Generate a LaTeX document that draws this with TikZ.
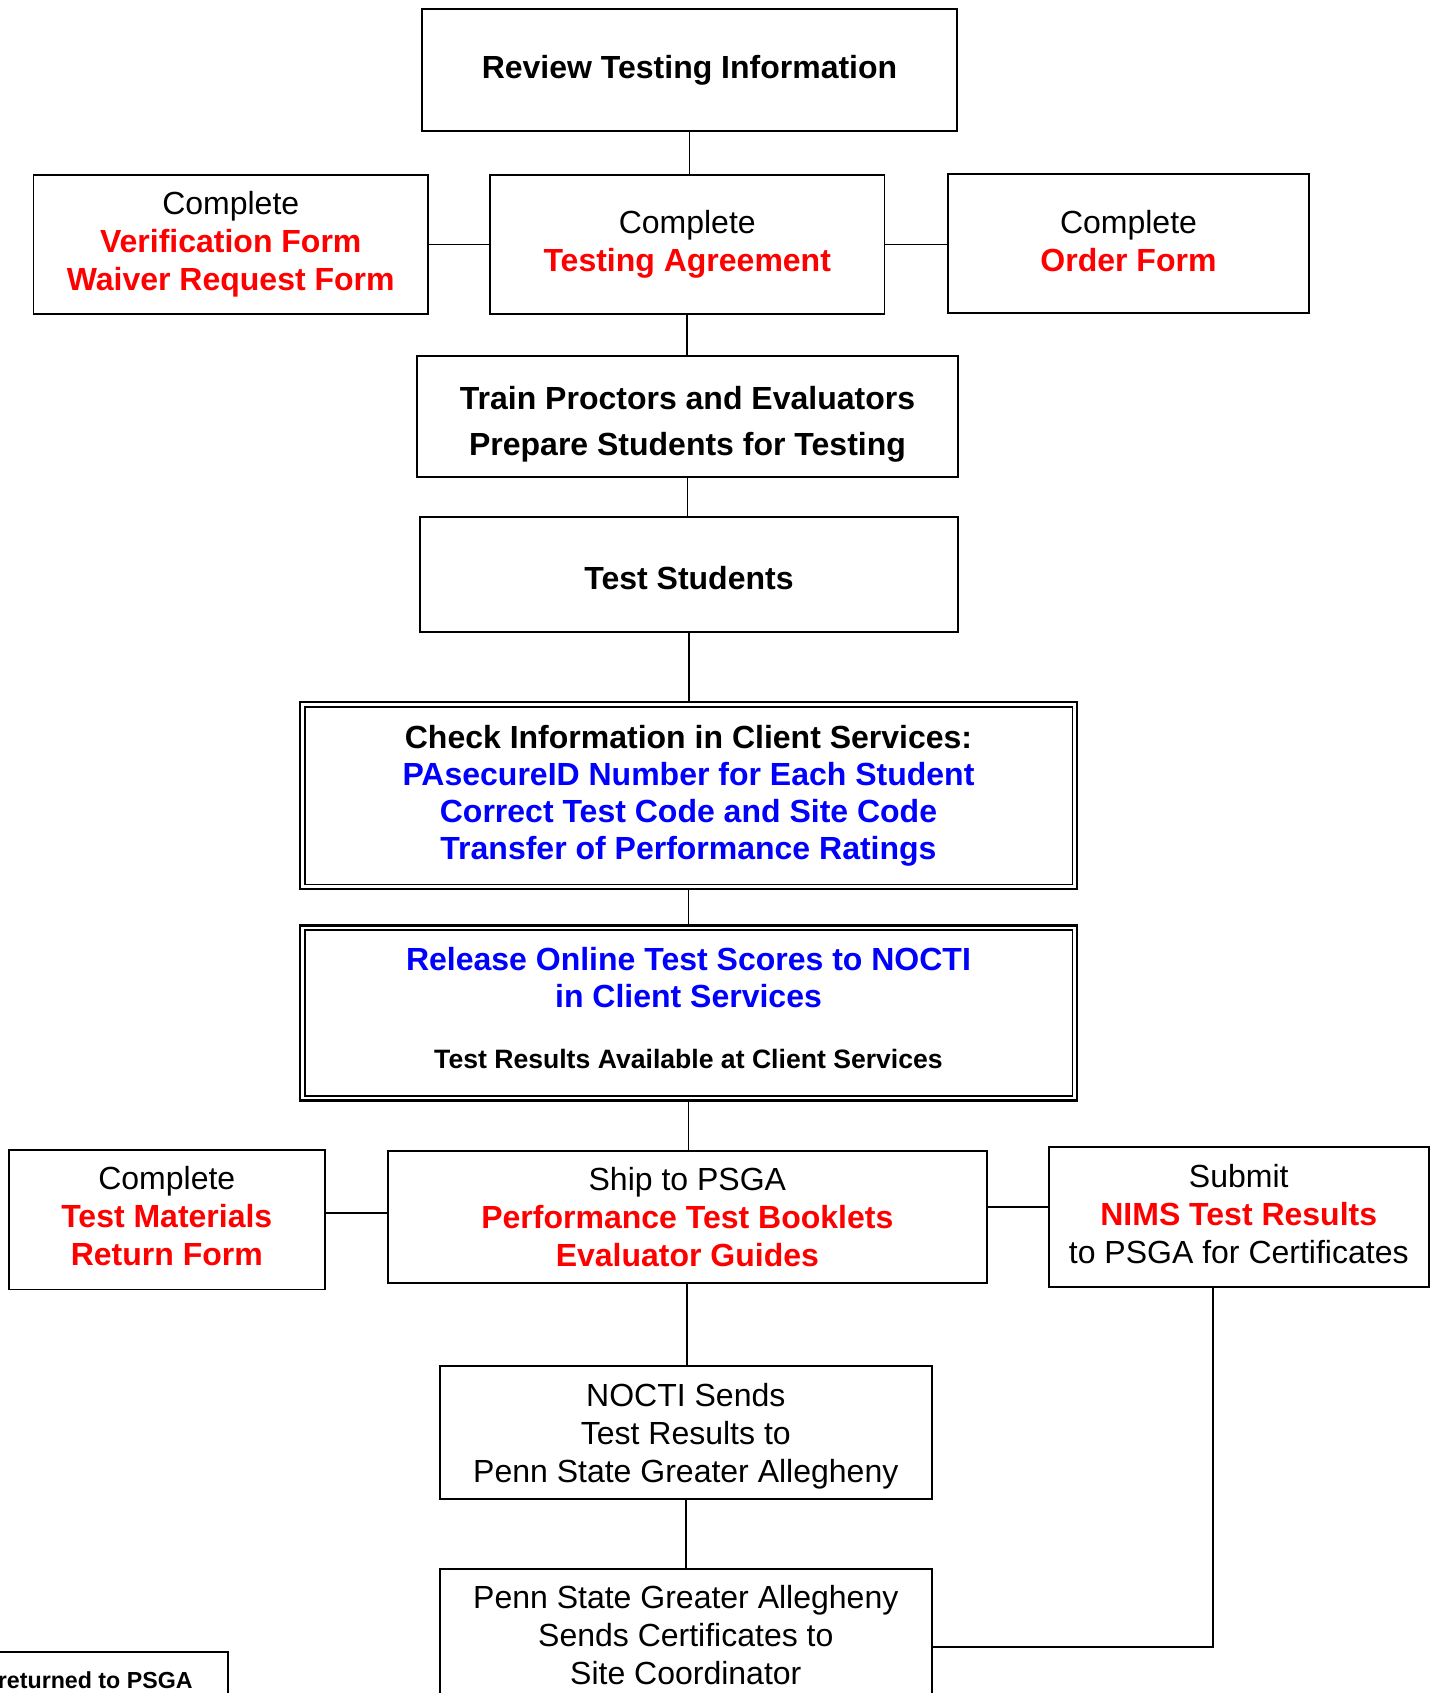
\documentclass[tikz,border=0pt]{standalone}
\usepackage{fontspec}
\setmainfont{Liberation Sans}
\newcommand{\redb}[1]{\textcolor{red}{\bfseries #1}}
\newcommand{\blueb}[1]{\textcolor{blue}{\bfseries #1}}
\newcommand{\dpfix}[1]{\rule[-#1]{0pt}{#1}}
\newcommand{\htfix}[1]{\rule{0pt}{#1}}
\begin{document}
\begin{tikzpicture}[x=0.5pt,y=-0.5pt,
  box/.style={draw, line width=0.9pt, align=center, inner sep=0pt, font=\fontsize{16}{19}\selectfont},
  dblbox/.style={box, line width=1.4pt},
  conn/.style={line width=0.9pt}]
\clip (0,0) rectangle (1432,1693);
\fill[white] (0,0) rectangle (1432,1693);

\node[box, minimum width=267.5pt, minimum height=61pt] (review) at (689.5,70) {\bfseries Review Testing Information};

\node[box, minimum width=197.25pt, minimum height=69.5pt] (verif) at (230.75,244.5) {Complete\\\redb{Verification Form}\\\redb{Waiver Request Form}};
\node[box, minimum width=197.25pt, minimum height=69.5pt] (agree) at (687.25,244.5) {Complete\\\redb{Testing Agreement}};
\node[box, minimum width=180.5pt, minimum height=69.5pt] (order) at (1128.5,243.5) {Complete\\\redb{Order Form}\dpfix{2.7pt}};

\node[box, minimum width=270.5pt, minimum height=60.5pt] (train) at (687.5,416.5) {\htfix{19.2pt}\bfseries Train Proctors and Evaluators\\[4pt]\bfseries Prepare Students for Testing};
\node[box, minimum width=269pt, minimum height=57.5pt] (tests) at (689,574.5) {\htfix{15pt}\bfseries Test Students};

\node[dblbox, minimum width=388.5pt, minimum height=93.5pt, font=\fontsize{16}{18.5}\selectfont] (check) at (688.5,795.5) {\bfseries Check Information in Client Services:\\\blueb{PAsecureID Number for Each Student}\\\blueb{Correct Test Code and Site Code}\\\blueb{Transfer of Performance Ratings}};
\draw[line width=0.9pt] ([shift={(3pt,-3pt)}]check.north west) rectangle ([shift={(-3pt,3pt)}]check.south east);

\node[dblbox, minimum width=388.5pt, minimum height=87.5pt, font=\fontsize{16}{18.5}\selectfont] (release) at (688.5,1013) {\blueb{Release Online Test Scores to NOCTI}\\\blueb{in Client Services}\\[12pt]{\fontsize{13.3}{15}\selectfont\bfseries Test Results Available at Client Services}\dpfix{5.4pt}};
\draw[line width=0.9pt] ([shift={(3pt,-3pt)}]release.north west) rectangle ([shift={(-3pt,3pt)}]release.south east);

\node[box, minimum width=158.2pt, minimum height=69.75pt] (tmat) at (166.8,1219.75) {Complete\\\redb{Test Materials}\\\redb{Return Form}\dpfix{3.8pt}};
\node[box, minimum width=299.65pt, minimum height=66pt] (ship) at (687.35,1217) {Ship to PSGA\\\redb{Performance Test Booklets}\\\redb{Evaluator Guides}};
\node[box, minimum width=190pt, minimum height=70pt] (submit) at (1238.75,1217) {Submit\\\redb{NIMS Test Results}\\to PSGA for Certificates\dpfix{3.2pt}};

\node[box, minimum width=246.2pt, minimum height=66.5pt] (nocti) at (685.8,1432.5) {\htfix{15pt}NOCTI Sends\\Test Results to\\Penn State Greater Allegheny};
\node[box, minimum width=246.2pt, minimum height=66pt] (penn) at (685.8,1635) {Penn State Greater Allegheny\\Sends Certificates to\\Site Coordinator};

\node[box, minimum width=119pt, minimum height=34pt] (ret) at (109,1686) {};
\node[anchor=base east, inner sep=0pt, font=\fontsize{11.6}{14}\selectfont\bfseries] (rettext) at (193,1688) {returned to PSGA};

\draw[conn] (review.south) -- (review.south |- agree.north);
\draw[conn] (verif.east) -- (verif.east -| agree.west);
\draw[conn] (agree.east) -- (agree.east -| order.west);
\draw[conn] (agree.south) -- (agree.south |- train.north);
\draw[conn] (train.south) -- (train.south |- tests.north);
\draw[conn] (tests.south) -- (tests.south |- check.north);
\draw[conn] (check.south) -- (check.south |- release.north);
\draw[conn] (release.south) -- (release.south |- ship.north);
\draw[conn] ([yshift=3.4pt]tmat.east) -- ([yshift=3.4pt]tmat.east -| ship.west);
\draw[conn] ([yshift=5pt]ship.east) -- ([yshift=5pt]ship.east -| submit.west);
\draw[conn] (ship.south) -- (ship.south |- nocti.north);
\draw[conn] (nocti.south) -- (nocti.south |- penn.north);
\coordinate (elbow) at (1213,1647);
\draw[conn] (submit.south -| elbow) -- (elbow) -- (elbow -| penn.east);
\end{tikzpicture}
\end{document}
